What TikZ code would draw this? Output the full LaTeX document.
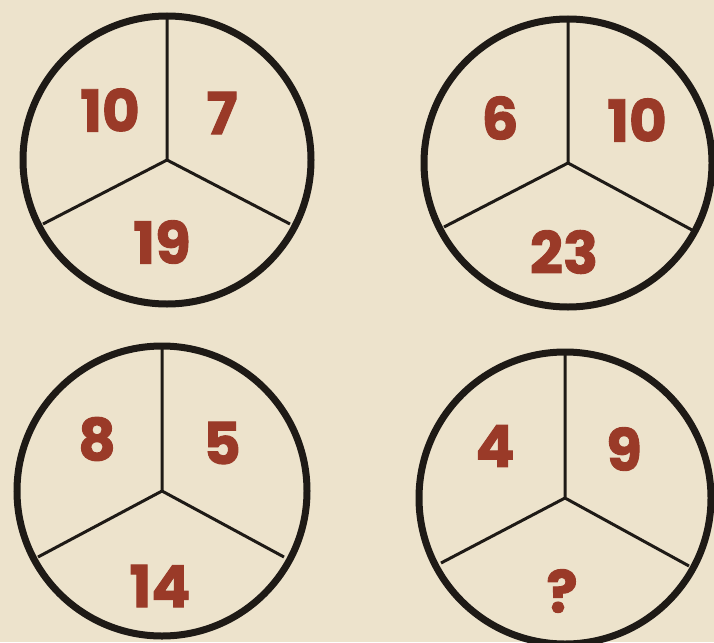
\documentclass[tikz,border=0pt]{standalone}
\usepackage{fontspec}
\setmainfont{Poppins}[BoldFont={* Bold},BoldFeatures={FakeBold=1.6}]
\definecolor{paper}{HTML}{EDE3CC}
\definecolor{ink}{HTML}{1E1A16}
\definecolor{num}{HTML}{9A3A28}
\begin{document}
\begin{tikzpicture}[x=1pt,y=-1pt,
  rim/.style={draw=ink,line width=7pt},
  spoke/.style={draw=ink,line width=3pt},
  numtxt/.style={text=num,font=\bfseries\fontsize{58}{60}\selectfont,inner sep=0pt}]
\fill[paper] (0,0) rectangle (714,642);
\useasboundingbox (0,0) rectangle (714,642);
% circle 1
\coordinate (c1) at (167,160);
\draw[rim] (c1) circle[radius=144];
\draw[spoke] (c1) -- ++(0,-141) (c1) -- ++(-124,64) (c1) -- ++(123,64);
\node[numtxt] (a1) at (110,110) {10};
\node[numtxt] (b1) at (222,113) {7};
\node[numtxt] (d1) at (162,242) {19};
% circle 2
\coordinate (c2) at (568,163);
\draw[rim] (c2) circle[radius=144];
\draw[spoke] (c2) -- ++(0,-141) (c2) -- ++(-124,64) (c2) -- ++(124,67);
\node[numtxt] (a2) at (500,118) {6};
\node[numtxt] (b2) at (637,120) {10};
\node[numtxt] (d2) at (564,252) {23};
% circle 3
\coordinate (c3) at (162,491);
\draw[rim] (c3) circle[radius=145];
\draw[spoke] (c3) -- ++(0,-142) (c3) -- ++(-124,66) (c3) -- ++(122,66);
\node[numtxt] (a3) at (97,439) {8};
\node[numtxt] (b3) at (222,443) {5};
\node[numtxt] (d3) at (160,586) {14};
% circle 4
\coordinate (c4) at (565,498);
\draw[rim] (c4) circle[radius=146];
\draw[spoke] (c4) -- ++(0,-143) (c4) -- ++(-124,65) (c4) -- ++(124,68);
\node[numtxt] (a4) at (495,446) {4};
\node[numtxt] (b4) at (624,449) {9};
\node[numtxt] (d4) at (562,591) {?};
\end{tikzpicture}
\end{document}
